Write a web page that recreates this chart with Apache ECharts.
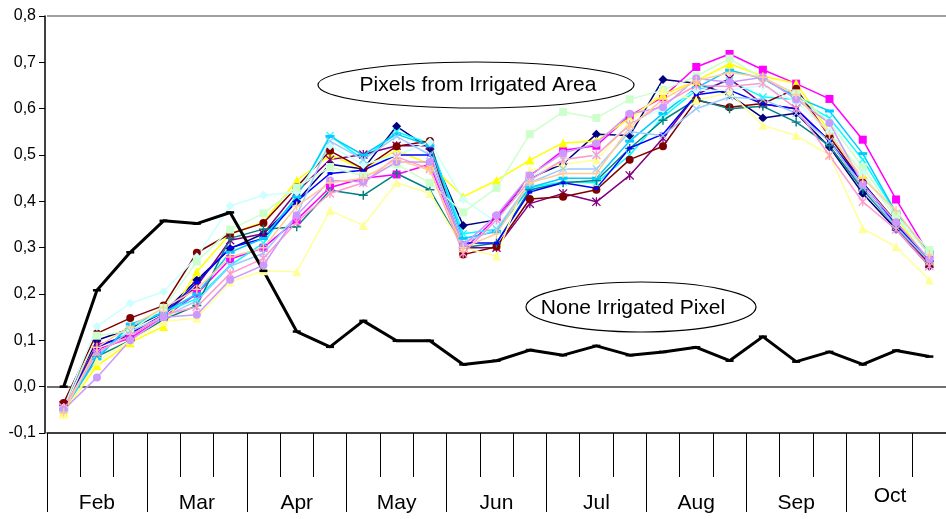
<!DOCTYPE html>
<html><head><meta charset="utf-8">
<script src="https://cdn.jsdelivr.net/npm/echarts@6/dist/echarts.min.js"></script>
<style>html,body{margin:0;padding:0;background:#fff}#c{width:946px;height:519px}</style>
</head><body><div id="c"></div>
<script>
var months = ['Feb','Mar','Apr','May','Jun','Jul','Aug','Sep','Oct'];
var dekads = [];
months.forEach(function(m){ for (var k=1;k<=3;k++) dekads.push(m+'-'+k); });
var yTicks = [-0.1,0,0.1,0.2,0.3,0.4,0.5,0.6,0.7,0.8];

var navy     = [-0.04,0.10,0.125,0.16,0.23,0.298,0.33,0.40,0.48,0.47,0.562,0.514,0.348,0.36,0.45,0.481,0.545,0.542,0.663,0.655,0.63,0.58,0.59,0.517,0.417,0.34,0.26];
var magenta  = [-0.04,0.08,0.105,0.15,0.20,0.275,0.30,0.36,0.43,0.45,0.458,0.48,0.295,0.365,0.455,0.51,0.52,0.585,0.625,0.69,0.718,0.684,0.654,0.621,0.533,0.404,0.285];
var yellow   = [-0.055,0.045,0.095,0.13,0.248,0.33,0.355,0.445,0.50,0.47,0.51,0.48,0.41,0.445,0.489,0.526,0.53,0.58,0.63,0.66,0.697,0.67,0.655,0.55,0.46,0.365,0.27];
var cyan     = [-0.045,0.065,0.13,0.16,0.19,0.262,0.31,0.41,0.542,0.49,0.55,0.525,0.33,0.34,0.43,0.442,0.44,0.50,0.582,0.64,0.66,0.625,0.62,0.58,0.49,0.374,0.29];
var purple   = [-0.04,0.09,0.11,0.155,0.217,0.316,0.33,0.42,0.49,0.501,0.52,0.52,0.30,0.30,0.395,0.417,0.399,0.456,0.536,0.63,0.665,0.61,0.60,0.53,0.43,0.345,0.265];
var darkRed  = [-0.035,0.115,0.148,0.175,0.289,0.33,0.353,0.431,0.509,0.47,0.519,0.53,0.285,0.302,0.405,0.41,0.425,0.49,0.519,0.618,0.603,0.611,0.643,0.54,0.44,0.356,0.265];
var teal     = [-0.045,0.065,0.10,0.145,0.175,0.32,0.34,0.345,0.424,0.413,0.46,0.425,0.30,0.31,0.425,0.44,0.445,0.514,0.575,0.62,0.60,0.605,0.571,0.52,0.425,0.345,0.27];
var blue     = [-0.045,0.085,0.115,0.155,0.225,0.30,0.32,0.40,0.46,0.467,0.50,0.50,0.31,0.31,0.42,0.44,0.428,0.515,0.545,0.63,0.64,0.61,0.60,0.53,0.44,0.35,0.27];
var skyBlue  = [-0.05,0.06,0.135,0.16,0.20,0.29,0.32,0.41,0.54,0.50,0.545,0.52,0.32,0.335,0.43,0.45,0.45,0.53,0.59,0.645,0.683,0.665,0.625,0.595,0.503,0.375,0.29];
var lightCyan= [-0.045,0.13,0.18,0.205,0.28,0.39,0.413,0.42,0.52,0.479,0.50,0.528,0.404,0.355,0.45,0.49,0.50,0.57,0.60,0.64,0.64,0.65,0.615,0.55,0.46,0.365,0.285];
var lightGreen=[-0.05,0.11,0.12,0.17,0.27,0.339,0.374,0.43,0.474,0.455,0.48,0.44,0.376,0.429,0.545,0.593,0.58,0.62,0.64,0.67,0.708,0.665,0.633,0.57,0.474,0.37,0.295];
var lightYellow=[-0.06,0.055,0.10,0.14,0.148,0.226,0.25,0.248,0.38,0.348,0.44,0.417,0.30,0.282,0.467,0.48,0.489,0.57,0.639,0.618,0.635,0.564,0.542,0.50,0.341,0.302,0.23];
var paleBlue = [-0.05,0.07,0.12,0.15,0.185,0.26,0.288,0.37,0.53,0.49,0.54,0.50,0.31,0.34,0.44,0.47,0.47,0.55,0.542,0.60,0.625,0.62,0.59,0.53,0.43,0.345,0.27];
var rose     = [-0.045,0.075,0.11,0.155,0.172,0.244,0.277,0.355,0.417,0.44,0.496,0.47,0.288,0.36,0.445,0.49,0.50,0.565,0.61,0.65,0.648,0.655,0.60,0.499,0.399,0.339,0.26];
var lavender = [-0.05,0.02,0.10,0.15,0.155,0.231,0.262,0.37,0.445,0.442,0.485,0.485,0.305,0.37,0.456,0.504,0.525,0.589,0.603,0.665,0.657,0.668,0.62,0.569,0.437,0.355,0.275];
var tan      = [-0.055,0.085,0.13,0.17,0.21,0.28,0.30,0.39,0.44,0.45,0.49,0.467,0.30,0.33,0.44,0.46,0.46,0.56,0.62,0.66,0.678,0.668,0.63,0.545,0.45,0.38,0.285];
var noneIrrigated = [0.0,0.208,0.29,0.358,0.352,0.376,0.25,0.119,0.086,0.142,0.099,0.099,0.048,0.056,0.079,0.068,0.088,0.068,0.075,0.085,0.056,0.108,0.054,0.075,0.048,0.078,0.065];

var SYM_X = 'path://M0,1 L1,0 L5,4 L9,0 L10,1 L6,5 L10,9 L9,10 L5,6 L1,10 L0,9 L4,5 Z';
var SYM_PLUS = 'path://M4.2,0 H5.8 V4.2 H10 V5.8 H5.8 V10 H4.2 V5.8 H0 V4.2 H4.2 Z';
var SYM_STAR = 'path://M4.3,0 H5.7 V10 H4.3 Z M0,1 L1,0 L10,9 L9,10 Z M9,0 L10,1 L1,10 L0,9 Z';

var pixelSeries = [
  {name:'P1', data:navy, color:'#000080', sym:'diamond', size:9},
  {name:'P2', data:magenta, color:'#FF00FF', sym:'rect', size:8},
  {name:'P3', data:yellow, color:'#FFFF00', sym:'triangle', size:9},
  {name:'P4', data:cyan, color:'#00FFFF', sym:SYM_X, size:8},
  {name:'P5', data:purple, color:'#800080', sym:SYM_STAR, size:9},
  {name:'P6', data:darkRed, color:'#800000', sym:'circle', size:8},
  {name:'P7', data:teal, color:'#008080', sym:SYM_PLUS, size:9},
  {name:'P8', data:blue, color:'#0000FF', sym:'rect', size:[5,3]},
  {name:'P9', data:skyBlue, color:'#00CCFF', sym:'rect', size:[9,3]},
  {name:'P10', data:lightCyan, color:'#CCFFFF', sym:'diamond', size:9},
  {name:'P11', data:lightGreen, color:'#CCFFCC', sym:'rect', size:8},
  {name:'P12', data:lightYellow, color:'#FFFF99', sym:'triangle', size:9},
  {name:'P13', data:paleBlue, color:'#99CCFF', sym:SYM_X, size:8},
  {name:'P14', data:rose, color:'#FF99CC', sym:SYM_STAR, size:9},
  {name:'P15', data:lavender, color:'#CC99FF', sym:'circle', size:8},
  {name:'P16', data:tan, color:'#FFCC99', sym:SYM_PLUS, size:9}
];

var series = pixelSeries.map(function(s){
  return {
    name:s.name, type:'line', data:s.data, xAxisIndex:0, yAxisIndex:0,
    symbol:s.sym, symbolSize:s.size, showSymbol:true, animation:false,
    lineStyle:{color:s.color, width:1.5},
    itemStyle:{color:s.color, borderWidth:0}
  };
});
series.push({
  name:'None Irrigated', type:'line', data:noneIrrigated, xAxisIndex:0, yAxisIndex:0,
  symbol:'rect', symbolSize:[8,2.5], animation:false,
  lineStyle:{color:'#000', width:3}, itemStyle:{color:'#000'}
});

var splitColors = yTicks.map(function(v){
  if (Math.abs(v) < 1e-9) return '#404040';
  if (Math.abs(v-0.8) < 1e-9) return '#808080';
  return 'rgba(0,0,0,0)';
});

var chart = echarts.init(document.getElementById('c'), null, {renderer:'canvas'});
chart.setOption({
  backgroundColor:'#fff',
  animation:false,
  textStyle:{fontFamily:'Liberation Sans, Arial, sans-serif'},
  grid:{left:47, top:16, width:909, height:417, containLabel:false},
  xAxis:[
    {type:'category', data:dekads, boundaryGap:true, position:'bottom',
     axisLine:{onZero:false, lineStyle:{color:'#000', width:1.5}},
     axisTick:{show:true, interval:0, length:44, lineStyle:{color:'#000', width:1}},
     axisLabel:{show:false}, splitLine:{show:false}},
    {type:'category', data:months.map(function(m){
        return m==='Oct' ? {value:m, textStyle:{lineHeight:7, padding:[0,12,0,0]}} : m; }),
     boundaryGap:true, position:'bottom', gridIndex:0,
     axisLine:{show:false, onZero:false},
     axisTick:{show:true, interval:0, length:79, lineStyle:{color:'#000', width:1}},
     axisLabel:{show:true, interval:0, margin:60, fontSize:21, color:'#000',
                fontFamily:'Liberation Sans, Arial, sans-serif'},
     splitLine:{show:false}}
  ],
  yAxis:{type:'value', min:-0.1, max:0.8, interval:0.1, offset:2,
    axisLine:{show:true, onZero:false, lineStyle:{color:'#000', width:1.5}},
    axisTick:{show:true, length:6, lineStyle:{color:'#000', width:1}},
    axisLabel:{margin:9, fontSize:16, color:'#000', fontFamily:'Liberation Sans, Arial, sans-serif',
      formatter:function(v){ return v.toFixed(1).replace('.', ','); }},
    splitLine:{show:true, lineStyle:{color:splitColors, width:1.5}}
  },
  graphic:[
    {type:'ellipse', shape:{cx:476, cy:85, rx:158, ry:23}, style:{fill:'#fff', stroke:'#000', lineWidth:1.2}, z:100},
    {type:'text', x:478, y:85, style:{text:'Pixels from Irrigated Area', fill:'#000', fontSize:21,
      fontFamily:'Liberation Sans, Arial, sans-serif', textAlign:'center', textVerticalAlign:'middle'}, z:101},
    {type:'ellipse', shape:{cx:641, cy:307, rx:115, ry:25}, style:{fill:'#fff', stroke:'#000', lineWidth:1.2}, z:100},
    {type:'text', x:633, y:308, style:{text:'None Irrigated Pixel', fill:'#000', fontSize:21,
      fontFamily:'Liberation Sans, Arial, sans-serif', textAlign:'center', textVerticalAlign:'middle'}, z:101}
  ],
  series:series
});
</script></body></html>
